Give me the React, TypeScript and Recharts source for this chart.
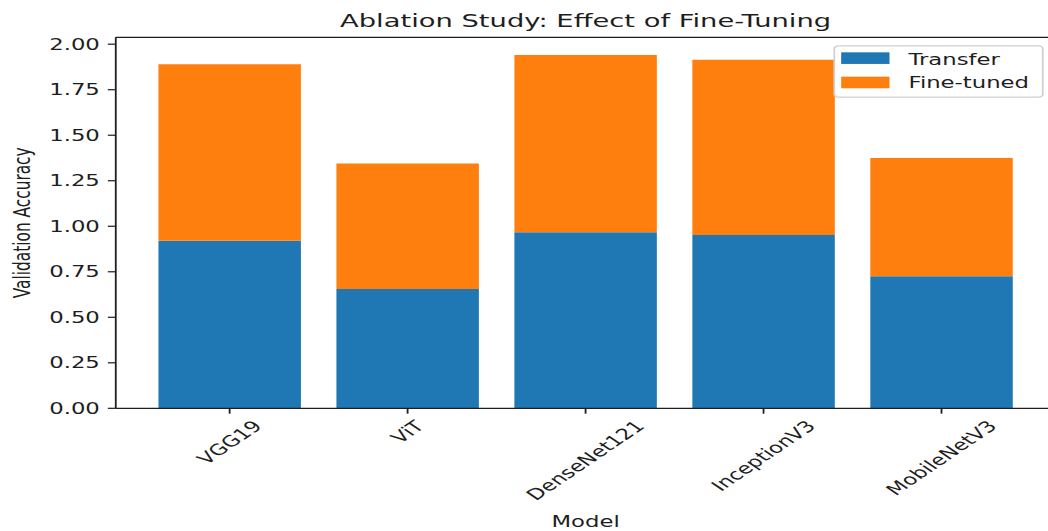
import React from "react";
import { BarChart, Bar, XAxis, YAxis, Legend, ReferenceLine } from "recharts";

// values
const models = ["VGG19", "ViT", "DenseNet121", "InceptionV3", "MobileNetV3"];
const transferAcc = [0.92, 0.655, 0.967, 0.952, 0.725];
const fineTunedAcc = [0.97, 0.69, 0.974, 0.962, 0.65];
const yTicks = [0, 0.25, 0.5, 0.75, 1.0, 1.25, 1.5, 1.75, 2.0];
const yMax = 2.038;

const rows = models.map((model, i) => ({
  model,
  transfer: transferAcc[i],
  fineTuned: fineTunedAcc[i],
}));

const FONT = "'DejaVu Sans', sans-serif";
const INK = "#1e1e1e";
const BLUE = "#1f77b4";
const ORANGE = "#ff7f0e";
const TICK_PX = 13.9;

// the reference is a 640x480 figure stretched to 1048x531
const SX = 1048 / 640;
const SY = 531 / 480;

let ctx: CanvasRenderingContext2D | null = null;
function textWidth(s: string, size: number) {
  if (!ctx) ctx = document.createElement("canvas").getContext("2d");
  if (!ctx) return s.length * size * 0.62;
  ctx.font = `${size}px "DejaVu Sans"`;
  return ctx.measureText(s).width;
}

function RotatedTick({ x, y, payload }: any) {
  const w = textWidth(String(payload.value), TICK_PX);
  const half = ((w + 14) * Math.SQRT1_2) / 2;
  const cy = y + half - 1;
  return (
    <text
      x={x}
      y={cy}
      transform={`rotate(-45 ${x} ${cy})`}
      textAnchor="middle"
      dominantBaseline="central"
      fontFamily={FONT}
      fontSize={TICK_PX}
      fill={INK}
    >
      {payload.value}
    </text>
  );
}

function LegendBox() {
  return (
    <svg width={128.3} height={47.3} style={{ display: "block", overflow: "visible" }}>
      <rect
        x={0.5}
        y={0.5}
        width={127.3}
        height={46.3}
        rx={2.5}
        fill="rgba(255,255,255,0.8)"
        stroke="#d0d0d0"
        strokeWidth={1.1}
      />
      <rect x={4.7} y={6.3} width={29.5} height={10.5} fill={BLUE} />
      <rect x={4.7} y={28.3} width={29.5} height={10.5} fill={ORANGE} />
      <text x={45.8} y={17.5} fontFamily={FONT} fontSize={TICK_PX} fill={INK}>
        Transfer
      </text>
      <text x={45.8} y={38.5} fontFamily={FONT} fontSize={TICK_PX} fill={INK}>
        Fine-tuned
      </text>
    </svg>
  );
}

export default function App() {
  return (
    <div
      style={{
        position: "fixed",
        left: 0,
        top: 0,
        width: 1048,
        height: 531,
        overflow: "hidden",
        background: "#fff",
      }}
    >
      <div
        style={{
          position: "relative",
          width: 650,
          height: 480,
          transform: `scale(${SX}, ${SY})`,
          transformOrigin: "0 0",
        }}
      >
        <BarChart
          width={650}
          height={480}
          data={rows}
          margin={{ top: 33.7, right: 5.5, bottom: 3.9, left: 0 }}
          barCategoryGap="10%"
        >
          <XAxis
            dataKey="model"
            padding={{ left: 15.2, right: 15.2 }}
            height={107}
            tickSize={4.86}
            tickMargin={4.86}
            interval={0}
            tick={<RotatedTick />}
            tickLine={{ stroke: INK, strokeWidth: 1.1 }}
            axisLine={{ stroke: INK, strokeWidth: 1.1 }}
            label={{
              value: "Model",
              position: "insideBottom",
              offset: 0,
              fill: INK,
              fontSize: TICK_PX,
              fontFamily: FONT,
            }}
          />
          <YAxis
            width={70.7}
            domain={[0, yMax]}
            ticks={yTicks}
            interval={0}
            tickFormatter={(v: number) => v.toFixed(2)}
            tickSize={4.86}
            tickMargin={4.86}
            tick={{ fill: INK, fontSize: TICK_PX, fontFamily: FONT }}
            tickLine={{ stroke: INK, strokeWidth: 1.1 }}
            axisLine={{ stroke: INK, strokeWidth: 1.1 }}
            label={{
              value: "Validation Accuracy",
              angle: -90,
              position: "insideLeft",
              offset: 13.4,
              fill: INK,
              fontSize: TICK_PX,
              fontFamily: FONT,
              style: { textAnchor: "middle" },
            }}
          />
          <Legend
            layout="vertical"
            align="center"
            verticalAlign="middle"
            wrapperStyle={{ left: 508.7, top: 41.3, width: 128.3, height: 47.3 }}
            content={() => <LegendBox />}
          />
          <Bar dataKey="transfer" name="Transfer" stackId="acc" fill={BLUE} isAnimationActive={false} />
          <Bar dataKey="fineTuned" name="Fine-tuned" stackId="acc" fill={ORANGE} isAnimationActive={false} />
          {/* top spine */}
          <ReferenceLine y={yMax} stroke={INK} strokeWidth={1.1} ifOverflow="visible" />
        </BarChart>
        <svg
          width={650}
          height={480}
          style={{ position: "absolute", left: 0, top: 0, pointerEvents: "none" }}
        >
          <text x={357.6} y={24.7} textAnchor="middle" fontFamily={FONT} fontSize={16.7} fill={INK}>
            Ablation Study: Effect of Fine-Tuning
          </text>
        </svg>
      </div>
    </div>
  );
}
